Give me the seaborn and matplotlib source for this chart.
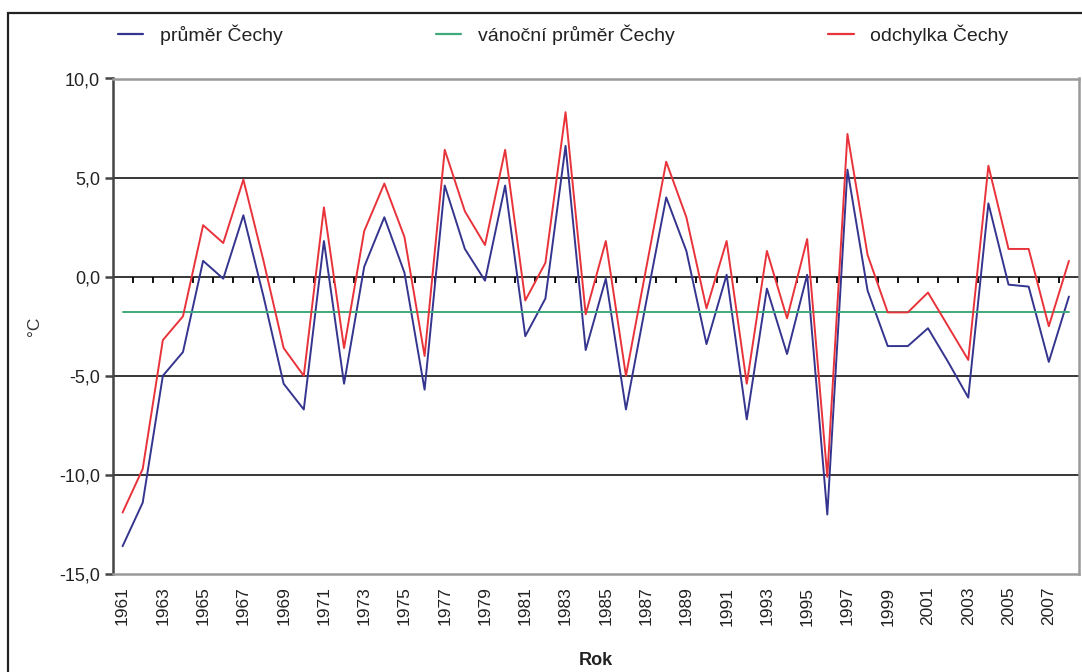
import numpy as np
import pandas as pd
import matplotlib
matplotlib.use("Agg")
import matplotlib.pyplot as plt
from matplotlib.patches import Rectangle
from matplotlib.ticker import FixedLocator, FuncFormatter
import seaborn as sns

# Data: December / Christmas temperatures for Bohemia (Čechy), 1961-2008
years = list(range(1961, 2009))
prumer_cechy = [-13.6, -11.4, -5.0, -3.8, 0.8, -0.1, 3.1, -1.0, -5.4, -6.7,
                1.8, -5.4, 0.5, 3.0, 0.2, -5.7, 4.6, 1.4, -0.2, 4.6,
                -3.0, -1.1, 6.6, -3.7, -0.1, -6.7, -1.3, 4.0, 1.3, -3.4,
                0.1, -7.2, -0.6, -3.9, 0.1, -12.0, 5.4, -0.7, -3.5, -3.5,
                -2.6, -4.3, -6.1, 3.7, -0.4, -0.5, -4.3, -1.0]
odchylka_cechy = [-11.9, -9.7, -3.2, -2.0, 2.6, 1.7, 4.9, 0.8, -3.6, -5.0,
                  3.5, -3.6, 2.3, 4.7, 2.0, -4.0, 6.4, 3.3, 1.6, 6.4,
                  -1.2, 0.7, 8.3, -1.9, 1.8, -5.0, 0.4, 5.8, 3.0, -1.6,
                  1.8, -5.4, 1.3, -2.1, 1.9, -10.1, 7.2, 1.1, -1.8, -1.8,
                  -0.8, -2.5, -4.2, 5.6, 1.4, 1.4, -2.5, 0.8]
vanocni_prumer = -1.8

series_names = ["průměr Čechy", "vánoční průměr Čechy", "odchylka Čechy"]
series_colors = ["#35358f", "#3fa97a", "#e8333b"]
y_ticks = [10, 5, 0, -5, -10, -15]

pos = np.arange(len(years))
df = pd.concat([
    pd.DataFrame({"pos": pos, "value": prumer_cechy, "series": series_names[0]}),
    pd.DataFrame({"pos": pos, "value": [vanocni_prumer] * len(years), "series": series_names[1]}),
    pd.DataFrame({"pos": pos, "value": odchylka_cechy, "series": series_names[2]}),
])

sns.set_theme(style="white")
plt.rcParams["font.family"] = ["Liberation Sans", "DejaVu Sans"]

fig = plt.figure(figsize=(10.82, 6.72), dpi=100)
ax = fig.add_axes([112.5 / 1082, 1 - 574 / 672, (1079 - 112.5) / 1082, (574 - 78.5) / 672])

# horizontal gridlines (behind the series)
for v in y_ticks[1:-1]:
    ax.axhline(v, color="black", lw=1.1, zorder=1)

sns.lineplot(data=df, x="pos", y="value", hue="series", hue_order=series_names,
             palette=series_colors, linewidth=1.4, ax=ax, legend=False, zorder=3,
             estimator=None, sort=False)

# category tick marks on the zero line
bounds = pos[:-1] + 0.5
ax.vlines(bounds, -0.3, 0, color="black", lw=1.3, zorder=2)

ax.set_xlim(-0.5, len(years) - 0.5)
ax.set_ylim(-15, 10)
ax.yaxis.set_major_locator(FixedLocator(y_ticks))
ax.yaxis.set_major_formatter(FuncFormatter(lambda v, p: f"{v:.1f}".replace(".", ",")))
ax.set_xticks(pos[::2])
ax.set_xticklabels([str(y) for y in years[::2]], rotation=90, fontsize=12.5, va="top")
ax.tick_params(axis="x", length=0, pad=9, colors="#222222")
ax.tick_params(axis="y", length=6, width=1.8, direction="out", left=True,
               color="#444444", labelsize=13, pad=3, labelcolor="#222222")

for side in ["top", "right", "bottom"]:
    ax.spines[side].set_color("#9a9a9a")
    ax.spines[side].set_linewidth(1.8)
ax.spines["left"].set_color("#444444")
ax.spines["left"].set_linewidth(1.8)

ax.set_xlabel("Rok", fontsize=13, fontweight="bold", color="#222222")
ax.xaxis.set_label_coords(0.5, -0.158)
ax.xaxis.label.set_va("top")
ax.set_ylabel("°C", fontsize=12.5, color="#333333")
ax.yaxis.set_label_coords(-0.073, 0.5)

# legend across the top
handles = [plt.Line2D([], [], color=c, lw=1.6) for c in series_colors]
fig.legend(handles, series_names, loc="center left", bbox_to_anchor=(118 / 1082, 1 - 35 / 672),
           ncol=3, frameon=False, fontsize=14, handlelength=1.3, handletextpad=0.85,
           columnspacing=7.9, borderpad=0, borderaxespad=0, labelcolor="#222222")

# outer frame
fig.patches.append(Rectangle((8 / 1082, -0.1), 1.1, 1 - 13 / 672 + 0.1,
                             transform=fig.transFigure, fill=False,
                             edgecolor="#222222", lw=1.6, clip_on=False))

fig.savefig("out.png", dpi=100)
